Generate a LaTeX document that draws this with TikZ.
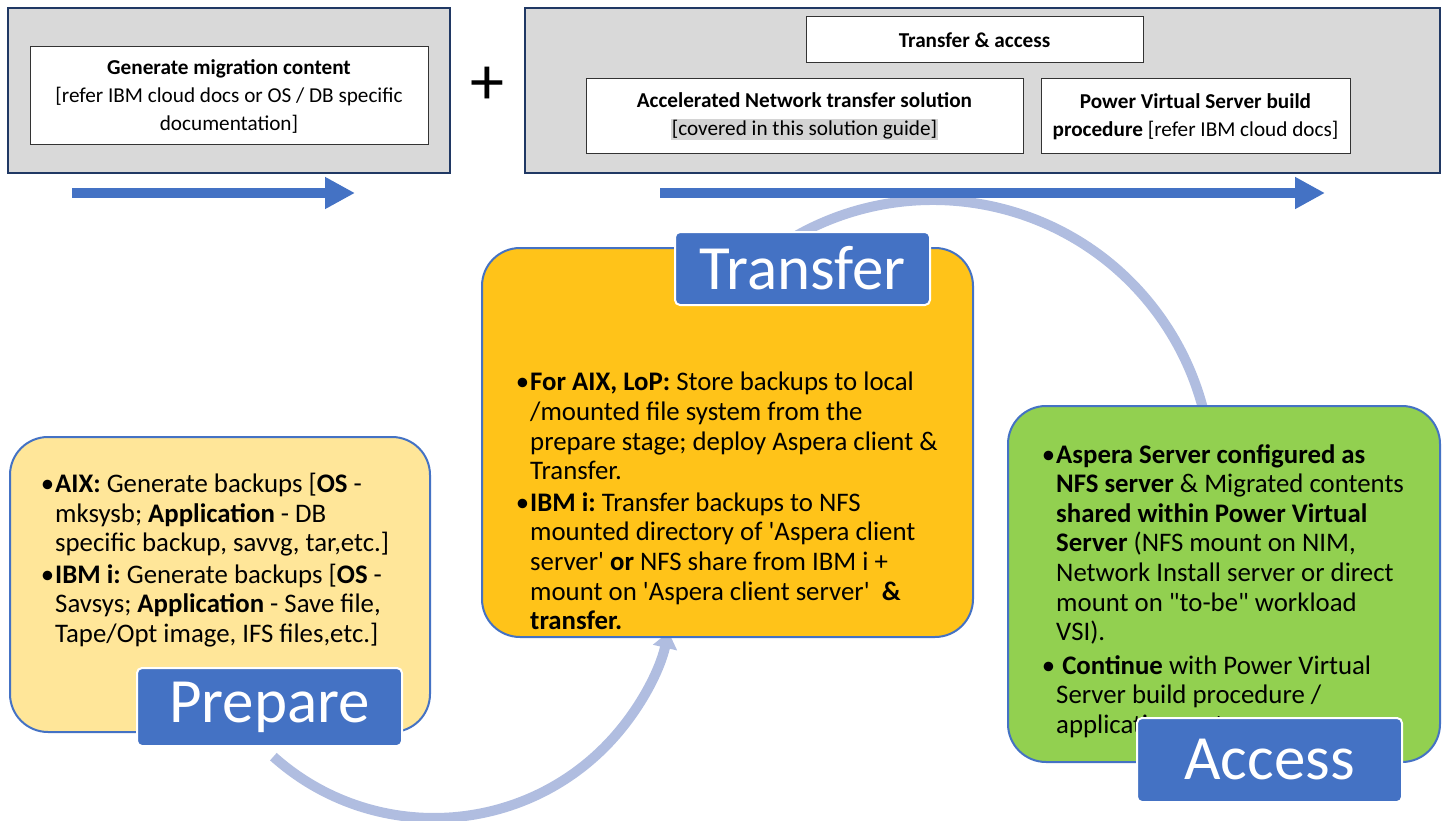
\documentclass[tikz,border=0pt]{standalone}
\usepackage{fontspec}
\setmainfont{Carlito}[Ligatures=TeXOff]
\usetikzlibrary{arrows.meta}
\frenchspacing
\definecolor{grayfill}{HTML}{D9D9D9}
\definecolor{navy}{HTML}{203864}
\definecolor{accent}{HTML}{4472C4}
\definecolor{prepfill}{HTML}{FFE699}
\definecolor{transfill}{HTML}{FFC319}
\definecolor{accfill}{HTML}{92D050}
\definecolor{arccol}{HTML}{B0BDE0}
\definecolor{hl}{HTML}{D4D4D4}
\tikzset{
  x=1pt, y=-1pt,
  graybox/.style={draw=navy, line width=2pt, fill=grayfill, inner sep=0pt},
  whitebox/.style={draw=black!80, line width=1pt, fill=white, inner sep=0pt, align=center,
    font=\fontsize{21.2}{28}\selectfont},
  stagebox/.style={draw=accent, line width=2pt, rounded corners=38pt, inner sep=0pt},
  stagelabel/.style={draw=white, line width=2pt, fill=accent, rounded corners=5pt, text=white,
    inner sep=0pt, font=\fontsize{63}{63}\selectfont},
  stagetext/.style={anchor=north west, align=left, inner sep=0pt,
    font=\fontsize{26.8}{29.6}\selectfont\frenchspacing},
  flowarrow/.style={draw=accent, line width=10pt, -{Triangle[length=30pt,width=30pt]}},
  cyclearc/.style={draw=arccol, line width=10pt},
}
\newcommand{\bul}{\makebox[0pt][r]{\textbullet\hspace{1pt}}}
\begin{document}
\begin{tikzpicture}
\useasboundingbox (0,0) rectangle (1448,821);
% cycle arcs (behind)
\coordinate (uc) at (933,479);
\coordinate (lc) at (434,577);
\draw[cyclearc] (uc) ++(-125:279) arc[start angle=-125, end angle=-8, radius=279];
\draw[cyclearc, -{Triangle[length=16pt,width=24pt]}] (lc) ++(131.8:241) arc[start angle=131.8, end angle=13.2, radius=241];

% top left
\node[graybox, minimum width=442, minimum height=165] (g1) at (229,90.5) {};
\node[whitebox, minimum width=398, minimum height=98] (gen) at (229,96)
  {\textbf{Generate migration content}\\{[}refer IBM cloud docs or OS / DB specific\\documentation]};
\node[font=\fontsize{68}{68}\selectfont, inner sep=0pt] (plus) at (487,86) {+};
% top right
\node[graybox, minimum width=915, minimum height=165] (g2) at (982.5,90.5) {};
\node[whitebox, minimum width=337, minimum height=46] (ta) at (974.5,40) {\textbf{Transfer \& access}};
\node[whitebox, minimum width=437, minimum height=75] (acc) at (804.5,116.5)
  {\textbf{Accelerated Network transfer solution}\\{\setlength{\fboxsep}{1pt}\colorbox{hl}{[covered in this solution guide]}}};
\node[whitebox, minimum width=309, minimum height=75] (pvs) at (1195.5,116.5)
  {\textbf{Power Virtual Server build}\\\textbf{procedure} [refer IBM cloud docs]};
% flow arrows
\coordinate (a1s) at (72,193); \coordinate (a1e) at (355,193);
\coordinate (a2s) at (660,193); \coordinate (a2e) at (1325,193);
\draw[flowarrow] (a1s) -- (a1e);
\draw[flowarrow] (a2s) -- (a2e);

% Prepare
\node[stagebox, fill=prepfill, minimum width=420, minimum height=295] (prep) at (220,584.5) {};
\node[stagetext] (preptext) at (55,473) {%
\bul\textbf{AIX:} Generate backups [\textbf{OS} -\\
mksysb; \textbf{Application} - DB\\
specific backup, savvg, tar,etc.]\\[2pt]
\bul\textbf{IBM i:} Generate backups [\textbf{OS} -\\
Savsys; \textbf{Application} - Save file,\\
Tape/Opt image, IFS files,etc.]};
\node[stagelabel, minimum width=265, minimum height=78] (preplab) at (269.5,707) {Prepare};

% Transfer
\node[stagebox, fill=transfill, minimum width=491, minimum height=389] (trans) at (727.5,442.5) {};
\node[stagetext] (transtext) at (530,372) {%
\bul\textbf{For AIX, LoP:} Store backups to local\\
/mounted file system from the\\
prepare stage; deploy Aspera client \&\\
Transfer.\\[2pt]
\bul\textbf{IBM i:} Transfer backups to NFS\\
mounted directory of 'Aspera client\\
server' \textbf{or} NFS share from IBM i +\\
mount on 'Aspera client server' \ \textbf{\&}\\
\textbf{transfer.}};
\node[stagelabel, minimum width=255, minimum height=73] (translab) at (802.5,268.5) {Transfer};

% Access
\node[stagebox, fill=accfill, minimum width=432, minimum height=356] (accs) at (1224,584) {};
\node[stagetext] (acctext) at (1056,444) {%
\bul\textbf{Aspera Server configured as}\\
\textbf{NFS server} \& Migrated contents\\
\textbf{shared within Power Virtual}\\
\textbf{Server} (NFS mount on NIM,\\
Network Install server or direct\\
mount on "to-be" workload\\
VSI).\\[4pt]
\bul\ \textbf{Continue} with Power Virtual\\
Server build procedure /\\
application restore.};
\node[stagelabel, minimum width=265, minimum height=84] (acclab) at (1269.5,760) {Access};
\end{tikzpicture}
\end{document}
